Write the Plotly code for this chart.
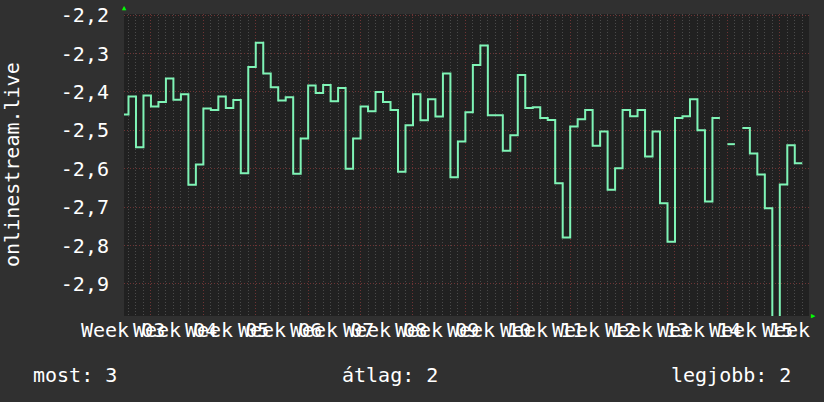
import plotly.graph_objects as go

# ---- data (daily values, one per day; None = no data) ----
days = list(range(92))
values = [-2.459, -2.412, -2.544, -2.409, -2.438, -2.426, -2.365, -2.420, -2.406, -2.642,
          -2.589, -2.443, -2.447, -2.412, -2.442, -2.421, -2.612, -2.335, -2.272, -2.352,
          -2.388, -2.422, -2.414, -2.613, -2.521, -2.383, -2.403, -2.382, -2.424, -2.390,
          -2.600, -2.521, -2.438, -2.450, -2.400, -2.426, -2.447, -2.608, -2.487, -2.406,
          -2.474, -2.419, -2.464, -2.352, -2.622, -2.529, -2.453, -2.330, -2.279, -2.461,
          -2.461, -2.553, -2.513, -2.356, -2.442, -2.440, -2.468, -2.473, -2.638, -2.779,
          -2.490, -2.471, -2.447, -2.540, -2.503, -2.655, -2.599, -2.447, -2.463, -2.447,
          -2.568, -2.503, -2.690, -2.790, -2.468, -2.463, -2.419, -2.500, -2.685, -2.468,
          None, -2.536, None, -2.494, -2.560, -2.615, -2.703, -2.990, -2.641, -2.539,
          -2.586, None]

week_labels = ["Week 03", "Week 04", "Week 05", "Week 06", "Week 07", "Week 08", "Week 09",
               "Week 10", "Week 11", "Week 12", "Week 13", "Week 14", "Week 15", "Week 16"]
y_ticks = [-2.2, -2.3, -2.4, -2.5, -2.6, -2.7, -2.8, -2.9]
y_title = "onlinestream.live"
legend_items = ["most: 3", "átlag: 2", "legjobb: 2"]

# ---- styling ----
FONT = "DejaVu Sans Mono"
LINE = "#7ff4b6"
MAJOR = "#6e3434"
MINOR = "#4a4a4a"
X_RANGE = [0.4, 91.9]
Y_RANGE = [-2.9835, -2.197]
LABEL_OFFSET = 0.2   # week label centre relative to first day
WEEK_START = 4       # first week boundary (day index)

# step geometry built from the data
xs, ys = [], []
for d, v in zip(days, values):
    if v is None:
        xs.append(None); ys.append(None)
    else:
        xs += [d, d + 1]
        ys += [v, v]

fig = go.Figure()
fig.add_trace(go.Scatter(x=xs, y=ys, mode="lines",
                         line=dict(color=LINE, width=2), hoverinfo="skip",
                         connectgaps=False, showlegend=False))

def xfrac(v):
    return (v - X_RANGE[0]) / (X_RANGE[1] - X_RANGE[0])

annotations = []
for k, lab in enumerate(week_labels):
    annotations.append(dict(x=xfrac(LABEL_OFFSET + 7 * k), y=-0.046, xref="paper", yref="paper",
                            text=lab, showarrow=False, xanchor="center", yanchor="middle",
                            font=dict(family=FONT, size=20, color="#ffffff")))

annotations.append(dict(x=-0.1635, y=0.5, xref="paper", yref="paper", text=y_title,
                        textangle=-90, showarrow=False, xanchor="center", yanchor="middle",
                        font=dict(family=FONT, size=20, color="#ffffff")))

leg_pos = [(-0.136, "left"), (0.316, "left"), (0.977, "right")]
for (px, anc), txt in zip(leg_pos, legend_items):
    annotations.append(dict(x=px, y=-0.195, xref="paper", yref="paper", text=txt,
                            showarrow=False, xanchor=anc, yanchor="middle",
                            font=dict(family=FONT, size=20, color="#ffffff")))

# small green axis arrows
annotations.append(dict(x=0.0, y=1.0, xref="paper", yref="paper", text="▲", showarrow=False,
                        xanchor="center", yanchor="bottom", font=dict(size=7, color="#00ff00")))
annotations.append(dict(x=1.0, y=0.0, xref="paper", yref="paper", text="▶", showarrow=False,
                        xanchor="left", yanchor="middle", font=dict(size=7, color="#00ff00")))

fig.update_layout(
    template="none",
    width=824, height=402,
    margin=dict(l=124, r=15, t=14, b=86, pad=0, autoexpand=False),
    paper_bgcolor="#303030", plot_bgcolor="#212121",
    font=dict(family=FONT, size=20, color="#ffffff"),
    annotations=annotations,
    xaxis=dict(range=X_RANGE, tick0=WEEK_START, dtick=7, showticklabels=False, ticks="",
               showgrid=True, gridcolor=MAJOR, griddash="1px,2px", gridwidth=1,
               zeroline=False, showline=False, automargin=False,
               minor=dict(tick0=0, dtick=1, showgrid=True, gridcolor=MINOR,
                          griddash="1px,2px", gridwidth=1, ticks="")),
    yaxis=dict(range=Y_RANGE, tickvals=y_ticks,
               ticktext=[f"{t:.1f}".replace(".", ",") for t in y_ticks],
               ticks="", ticklabelstandoff=14, automargin=False,
               showgrid=True, gridcolor=MAJOR, griddash="1px,2px", gridwidth=1,
               zeroline=False, showline=False,
               tickfont=dict(family=FONT, size=20, color="#ffffff")),
)

fig.write_html("out.html", config={"displayModeBar": False},
               post_script="document.body.style.margin='0';")
